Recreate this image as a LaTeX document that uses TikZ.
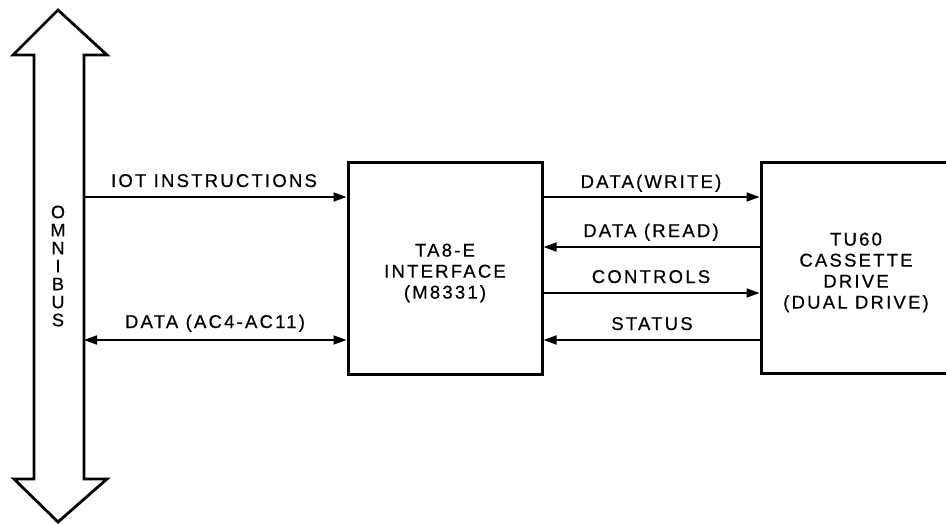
\documentclass[tikz,border=0pt]{standalone}
\usepackage{fontspec}
\setmainfont{Liberation Sans}[LetterSpace=12, FakeBold=0.6]
\usetikzlibrary{arrows.meta}
\begin{document}
\begin{tikzpicture}[x=1pt,y=-1pt,
  lbl/.style={font=\fontsize{18.5}{20}\selectfont, inner sep=0pt, anchor=base},
  blockbox/.style={draw, line width=3pt, align=center, font=\fontsize{18.5}{21}\selectfont},
  conn/.style={line width=1.8pt, -{Triangle[length=13pt,width=9pt]}},
  biconn/.style={line width=1.8pt, {Triangle[length=13pt,width=9pt]}-{Triangle[length=13pt,width=9pt]}},
  busline/.style={line width=2.8pt, line join=miter}]
\clip (0,0) rectangle (946,524);
\useasboundingbox (0,0) rectangle (946,524);
% OMNIBUS double arrow
\draw[busline] (58,10) -- (107,55) -- (84,55) -- (84,479) -- (107,479) -- (58,522)
  -- (14,479) -- (34,479) -- (34,55) -- (13,55) -- cycle;
\node[font=\fontsize{18}{18}\selectfont, align=center, inner sep=0pt] (bus) at (58,266) {O\\M\\N\\I\\B\\U\\S};
% blocks
\node[blockbox, minimum width=194pt, minimum height=211pt] (iface) at (445,268.5) {\rule{0pt}{22pt}TA8-E\\INTERFACE\\(M8331)};
\node[blockbox, minimum width=190pt, minimum height=210pt] (drive) at (856,268) {\rule{0pt}{22pt}TU60\\CASSETTE\\DRIVE\\(DUAL DRIVE)};
% free ends on the bus
\coordinate (busA) at (84,197);
\coordinate (busB) at (84,340);
% connectors
\draw[conn] (busA) -- (iface.west |- busA);
\draw[biconn] (busB) -- (iface.west |- busB);
\coordinate (yw) at (0,197);
\coordinate (yr) at (0,247);
\coordinate (yc) at (0,293);
\coordinate (ys) at (0,340);
\draw[conn] (iface.east |- yw) -- (drive.west |- yw);
\draw[conn] (drive.west |- yr) -- (iface.east |- yr);
\draw[conn] (iface.east |- yc) -- (drive.west |- yc);
\draw[conn] (drive.west |- ys) -- (iface.east |- ys);
% labels
\node[lbl] (l1) at (214,187) {IOT INSTRUCTIONS};
\node[lbl] (l2) at (215,328) {DATA (AC4-AC11)};
\node[lbl] (l3) at (651,188) {DATA(WRITE)};
\node[lbl] (l4) at (651,237) {DATA (READ)};
\node[lbl] (l5) at (651,283) {CONTROLS};
\node[lbl] (l6) at (652,330) {STATUS};
\end{tikzpicture}
\end{document}
